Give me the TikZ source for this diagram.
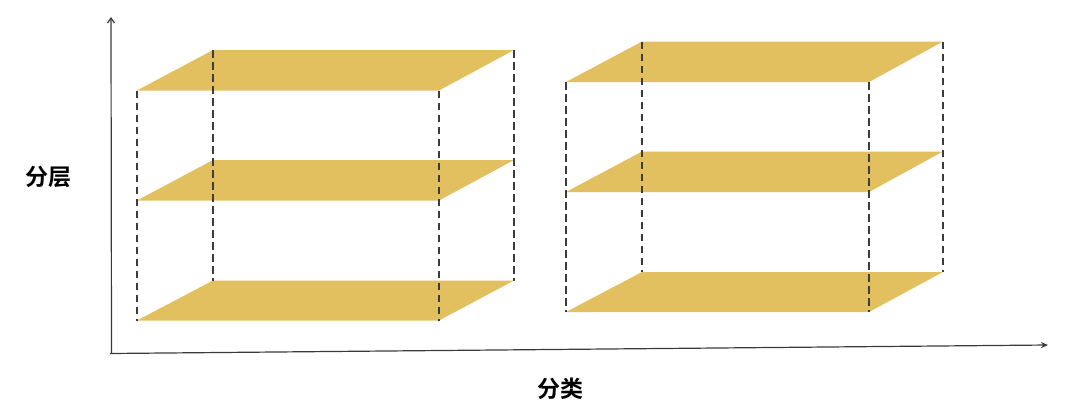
\documentclass[tikz,border=0pt]{standalone}
\usepackage{fontspec}
\newfontfamily\cjk{Noto Sans CJK SC}[BoldFont={Noto Sans CJK SC Bold}]
\usetikzlibrary{arrows.meta}
\definecolor{plane}{HTML}{E2BF5F}
\definecolor{axisgray}{HTML}{3A3A3A}
\definecolor{dashgray}{HTML}{3C3C3C}
\tikzset{
  planefill/.style={fill=plane},
  edgedash/.style={draw=dashgray,line width=1.1pt,dash pattern=on 7.5pt off 4.5pt},
  axisline/.style={draw=axisgray,line width=1.2pt},
  axislabel/.style={font=\cjk\bfseries\fontsize{23}{27}\selectfont,inner sep=0pt}
}
\begin{document}
\begin{tikzpicture}[x=1pt,y=-1pt]
\useasboundingbox (0,0) rectangle (1080,418);
% box: name, front-left x, back-left x, front-right x, back-right x, y offset
\foreach \nm/\fl/\bl/\fr/\br/\dy in {L/137/213/439/514/0, R/566/642/869/943/-8.5}{
  \foreach \lv/\by/\fy in {t/50/90.5, m/160/200.5, b/280.5/320.5}{
    \coordinate (\nm\lv fl) at (\fl,\fy+\dy);
    \coordinate (\nm\lv bl) at (\bl,\by+\dy);
    \coordinate (\nm\lv fr) at (\fr,\fy+\dy);
    \coordinate (\nm\lv br) at (\br,\by+\dy);
    \fill[planefill] (\nm\lv fl) -- (\nm\lv bl) -- (\nm\lv br) -- (\nm\lv fr) -- cycle;
  }
  \draw[edgedash] (\nm tfl) -- (\nm bfl);
  \draw[edgedash] (\nm tbl) -- (\nm bbl);
  \draw[edgedash] (\nm tfr) -- (\nm bfr);
  \draw[edgedash] (\nm tbr) -- (\nm bbr);
}
\coordinate (origin) at (111.5,353.5);
\coordinate (ytip) at (111,17);
\coordinate (xtip) at (1048,345);
\draw[axisline,-{Straight Barb[length=5pt,width=7pt]}] (origin) -- (ytip);
\draw[axisline,-{Stealth[length=7pt,width=6pt]}] (110,353.5) -- (xtip);
\node[axislabel] (ylab) at (48,177) {分层};
\node[axislabel] (xlab) at (560,389) {分类};
\end{tikzpicture}
\end{document}
